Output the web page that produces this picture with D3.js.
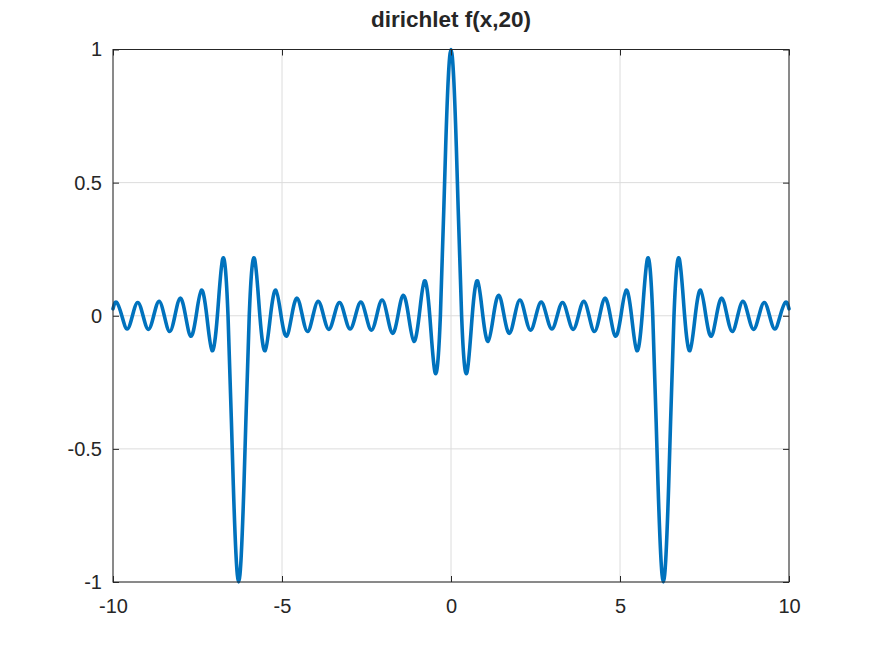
<!DOCTYPE html>
<html>
<head>
<meta charset="utf-8">
<script src="https://cdn.jsdelivr.net/npm/d3@7"></script>
<style>
  html, body { margin: 0; padding: 0; background: #fff; }
  svg { display: block; }
  text { font-family: "Liberation Sans", Arial, sans-serif; fill: #262626; }
</style>
</head>
<body>
<svg id="chart" width="872" height="654"></svg>
<script>
// ---- data (extrema and zero crossings of the curve) ----
const title = "dirichlet f(x,20)";
const xTicks = [-10, -5, 0, 5, 10];
const xTickLabels = ["-10", "-5", "0", "5", "10"];
const yTicks = [-1, -0.5, 0, 0.5, 1];
const yTickLabels = ["-1", "-0.5", "0", "0.5", "1"];

const xs = [
  -10, -9.896, -9.739, -9.582, -9.425, -9.268, -9.111, -8.954, -8.796, -8.639,
  -8.482, -8.325, -8.168, -8.011, -7.854, -7.697, -7.540, -7.383, -7.226, -7.069,
  -6.912, -6.754, -6.597, -6.440, -6.283, -6.126, -5.969, -5.812, -5.655, -5.498,
  -5.341, -5.184, -5.027, -4.869, -4.712, -4.555, -4.398, -4.241, -4.084, -3.927,
  -3.770, -3.613, -3.456, -3.299, -3.142, -2.985, -2.827, -2.670, -2.513, -2.356,
  -2.199, -2.042, -1.885, -1.728, -1.571, -1.414, -1.257, -1.100, -0.942, -0.785,
  -0.628, -0.471, -0.314, -0.157, 0,
  0.157, 0.314, 0.471, 0.628, 0.785, 0.942, 1.100, 1.257, 1.414, 1.571,
  1.728, 1.885, 2.042, 2.199, 2.356, 2.513, 2.670, 2.827, 2.985, 3.142,
  3.299, 3.456, 3.613, 3.770, 3.927, 4.084, 4.241, 4.398, 4.555, 4.712,
  4.869, 5.027, 5.184, 5.341, 5.498, 5.655, 5.812, 5.969, 6.126, 6.283,
  6.440, 6.597, 6.754, 6.912, 7.069, 7.226, 7.383, 7.540, 7.697, 7.854,
  8.011, 8.168, 8.325, 8.482, 8.639, 8.796, 8.954, 9.111, 9.268, 9.425,
  9.582, 9.739, 9.896, 10
];
const ys = [
  0.026, 0.051, 0, -0.050, 0, 0.050, 0, -0.051, 0, 0.054,
  0, -0.059, 0, 0.066, 0, -0.077, 0, 0.096, 0, -0.131,
  0, 0.214, 0, -0.637, -1, -0.637, 0, 0.214, 0, -0.131,
  0, 0.096, 0, -0.077, 0, 0.066, 0, -0.059, 0, 0.054,
  0, -0.051, 0, 0.050, 0, -0.050, 0, 0.051, 0, -0.054,
  0, 0.059, 0, -0.066, 0, 0.077, 0, -0.096, 0, 0.131,
  0, -0.214, 0, 0.637, 1,
  0.637, 0, -0.214, 0, 0.131, 0, -0.096, 0, 0.077, 0,
  -0.066, 0, 0.059, 0, -0.054, 0, 0.051, 0, -0.050, 0,
  0.050, 0, -0.051, 0, 0.054, 0, -0.059, 0, 0.066, 0,
  -0.077, 0, 0.096, 0, -0.131, 0, 0.214, 0, -0.637, -1,
  -0.637, 0, 0.214, 0, -0.131, 0, 0.096, 0, -0.077, 0,
  0.066, 0, -0.059, 0, 0.054, 0, -0.051, 0, 0.050, 0,
  -0.050, 0, 0.051, 0.026
];

// ---- layout ----
const svg = d3.select("#chart");
const pL = 113, pR = 789, pT = 49.5, pB = 582;
const x = d3.scaleLinear().domain([-10, 10]).range([pL, pR]);
const y = d3.scaleLinear().domain([-1, 1]).range([pB, pT]);
const gridColor = "#dcdcdc";
const axisColor = "#262626";

// grid
const grid = svg.append("g");
xTicks.forEach(t => {
  grid.append("line").attr("x1", x(t)).attr("x2", x(t)).attr("y1", pT).attr("y2", pB)
    .attr("stroke", gridColor).attr("stroke-width", 1);
});
yTicks.forEach(t => {
  grid.append("line").attr("x1", pL).attr("x2", pR).attr("y1", y(t)).attr("y2", y(t))
    .attr("stroke", gridColor).attr("stroke-width", 1);
});

// curve
const data = xs.map((v, i) => [v, ys[i]]);
const line = d3.line().x(d => x(d[0])).y(d => y(d[1])).curve(d3.curveNatural);
svg.append("path").datum(data).attr("d", line)
  .attr("fill", "none").attr("stroke", "#0072BD").attr("stroke-width", 3.6)
  .attr("stroke-linejoin", "round").attr("stroke-linecap", "round");

// axes with inward ticks
const tl = 6;
const ax = svg.append("g");
const xb = ax.append("g").attr("transform", `translate(0,${pB})`)
  .call(d3.axisBottom(x).tickValues(xTicks).tickSizeInner(-tl).tickSizeOuter(0).tickPadding(17)
    .tickFormat((d, i) => xTickLabels[i]));
const xt = ax.append("g").attr("transform", `translate(0,${pT})`)
  .call(d3.axisTop(x).tickValues(xTicks).tickSizeInner(-tl).tickSizeOuter(0).tickFormat(""));
const yl = ax.append("g").attr("transform", `translate(${pL},0)`)
  .call(d3.axisLeft(y).tickValues(yTicks).tickSizeInner(-tl).tickSizeOuter(0).tickPadding(11)
    .tickFormat((d, i) => yTickLabels[i]));
const yr = ax.append("g").attr("transform", `translate(${pR},0)`)
  .call(d3.axisRight(y).tickValues(yTicks).tickSizeInner(-tl).tickSizeOuter(0).tickFormat(""));
[xb, xt, yl, yr].forEach(g => {
  g.select(".domain").remove();
  g.selectAll("line").attr("stroke", axisColor);
  g.selectAll("text").attr("font-size", 20).attr("font-family", "Liberation Sans, Arial, sans-serif")
    .attr("fill", axisColor);
});

// box
svg.append("rect").attr("x", pL).attr("y", pT).attr("width", pR - pL).attr("height", pB - pT)
  .attr("fill", "none").attr("stroke", axisColor).attr("stroke-width", 1);

// title
svg.append("text").attr("x", (pL + pR) / 2).attr("y", 26.5)
  .attr("text-anchor", "middle").attr("font-size", 22.5).attr("font-weight", "bold")
  .text(title);
</script>
</body>
</html>
